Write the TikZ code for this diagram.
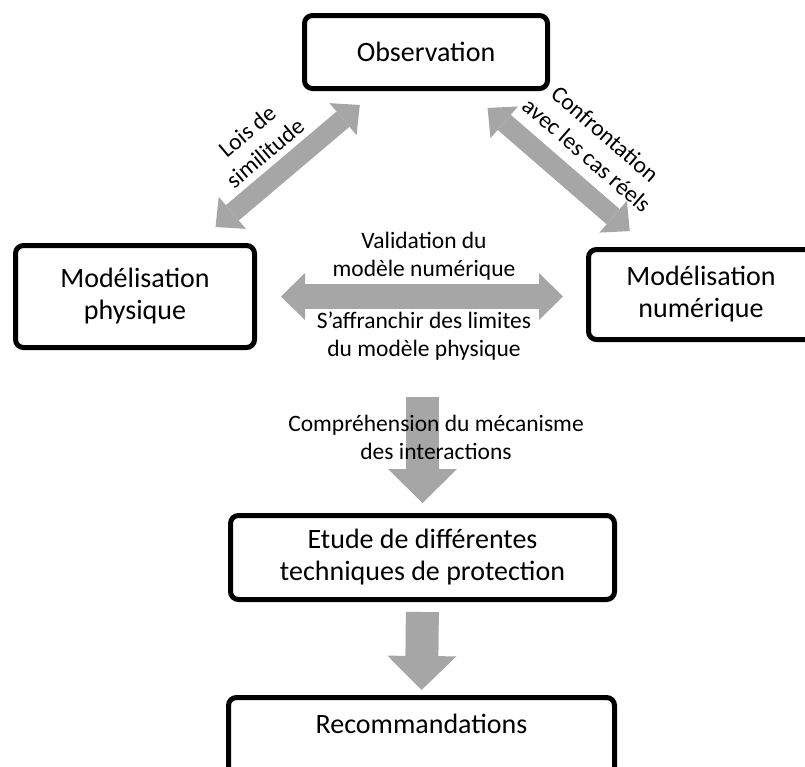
\documentclass[tikz,border=0pt]{standalone}
\usepackage{fontspec}
\setmainfont{Carlito}
\usetikzlibrary{arrows.meta}
\definecolor{arrowgray}{RGB}{166,166,166}

\begin{document}
\begin{tikzpicture}[x=1pt,y=-1pt,inner sep=0pt,outer sep=0pt,
procblock/.style={draw,rectangle,rounded corners=8pt,line width=5pt,align=center,font=\fontsize{28}{32}\selectfont},
lbl/.style={align=center,font=\fontsize{23.5}{28}\selectfont},
fatarrow/.style={draw=arrowgray,line width=25pt,{Triangle[length=24pt,width=47pt,line width=0pt]}-{Triangle[length=24pt,width=47pt,line width=0pt]}},
slantarrow/.style={draw=arrowgray,line width=20pt,{Triangle[length=22pt,width=42pt,line width=0pt]}-{Triangle[length=22pt,width=42pt,line width=0pt]}},
downarrow/.style={draw=arrowgray,line width=33pt,-{Triangle[length=34pt,width=69pt,line width=0pt]}}]

\useasboundingbox (0,0) rectangle (805,766);

\draw (426,52) node[procblock,minimum width=243pt,minimum height=73pt] (obs) {Observation};
\draw (135,296.5) node[procblock,minimum width=239pt,minimum height=102pt] (phys) {Modélisation\\physique};
\draw (701,294.5) node[procblock,minimum width=225pt,minimum height=90pt] (numer) {Modélisation\\numérique};
\draw (422.5,557.5) node[procblock,minimum width=384pt,minimum height=84pt] (etude) {Etude de différentes\\techniques de protection};
\draw (421.5,739.5) node[procblock,minimum width=386pt,minimum height=84pt] (recomm) {Recommandations\\\mbox{}};

% fleches
\draw[slantarrow,shorten <=28.6pt,shorten >=25.5pt] (phys.41) -- (obs.218);
\draw[slantarrow,shorten <=29.7pt,shorten >=28.1pt] (obs.317) -- (numer.138.5);
\draw[fatarrow,shorten <=26.5pt,shorten >=25.5pt] (phys.east) -- (phys.east -| numer.west);
\coordinate (compin) at (422.5,397);
\draw[downarrow,shorten >=12.5pt] (compin) -- (etude.north);
\draw[downarrow,shorten <=12.5pt,shorten >=7.5pt] (etude.south) -- (recomm.north);

\node[lbl,rotate=40] (lois) at (256,142) {Lois de\\similitude};
\node[lbl,rotate=-41] (confr) at (596,144.5) {Confrontation\\avec les cas réels};
\node[lbl] (valid) at (424,256.5) {Validation du\\modèle numérique};
\node[lbl] (affr) at (424,336) {S’affranchir des limites\\du modèle physique};
\node[lbl] (compr) at (436,437.5) {Compréhension du mécanisme\\des interactions};
\end{tikzpicture}
\end{document}
